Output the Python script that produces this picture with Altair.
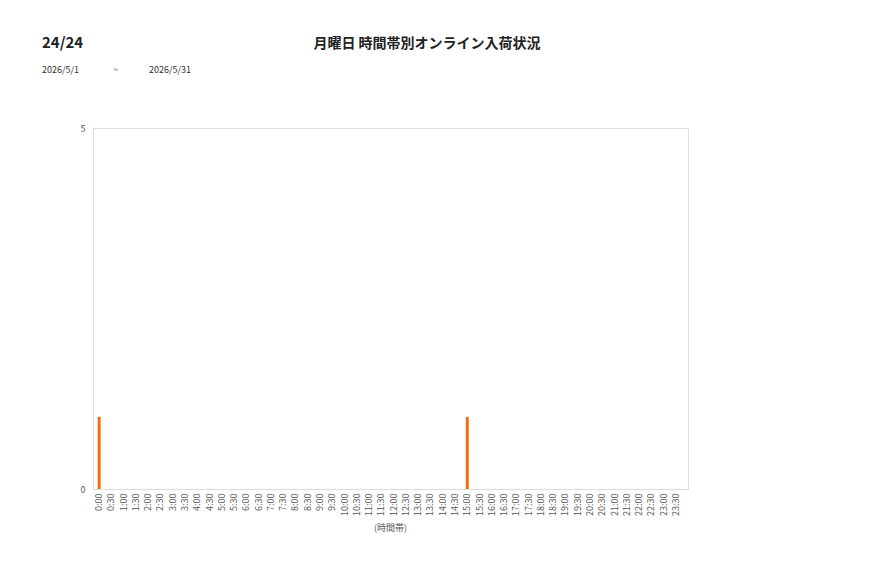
import altair as alt
import pandas as pd

slots = [f"{h}:{m:02d}" for h in range(24) for m in (0, 30)]
values = [0] * 48
values[0] = 1   # 0:00
values[30] = 1  # 15:00

df = pd.DataFrame({"slot": slots, "count": values})

FONT = "Noto Sans CJK JP"

base = alt.Chart(df)

bars = base.mark_bar(color="#F26C12", size=3).encode(
    x=alt.X("slot:N", sort=slots,
            scale=alt.Scale(domain=slots, paddingInner=0, paddingOuter=0, range=[0, 589]),
            axis=alt.Axis(title="(時間帯)", labelAngle=270, labelFontSize=9, labelColor="#555555",
                          titleFontSize=9, titleColor="#555555", titleFontWeight="normal",
                          titlePadding=8, ticks=False, domain=False, labelPadding=4,
                          labelFont=FONT, titleFont=FONT, titleX=297)),
    y=alt.Y("count:Q", scale=alt.Scale(domain=[0, 5]),
            axis=alt.Axis(title=None, values=[0, 5], grid=False, ticks=False, domain=False,
                          labelFontSize=9, labelColor="#555555", labelPadding=8, labelFont=FONT)),
)

texts_df = pd.DataFrame({"t": ["24/24"]})
t1 = alt.Chart(texts_df).mark_text(align="left", baseline="alphabetic", fontSize=15, font=FONT,
                                   fontWeight="bold", color="#222222").encode(
    x=alt.value(-51), y=alt.value(-80), text="t:N")
t2 = alt.Chart(pd.DataFrame({"t": ["月曜日 時間帯別オンライン入荷状況"]})).mark_text(
    align="center", baseline="alphabetic", fontSize=14, font=FONT, fontWeight="bold", color="#222222").encode(
    x=alt.value(334), y=alt.value(-80), text="t:N")
t3 = alt.Chart(pd.DataFrame({"t": ["2026/5/1"]})).mark_text(
    align="left", baseline="middle", fontSize=9, font=FONT, color="#333333").encode(
    x=alt.value(-51), y=alt.value(-58), text="t:N")
t4 = alt.Chart(pd.DataFrame({"t": ["~"]})).mark_text(
    align="left", baseline="middle", fontSize=9, font=FONT, color="#333333").encode(
    x=alt.value(20), y=alt.value(-58), text="t:N")
t5 = alt.Chart(pd.DataFrame({"t": ["2026/5/31"]})).mark_text(
    align="left", baseline="middle", fontSize=9, font=FONT, color="#333333").encode(
    x=alt.value(56), y=alt.value(-58), text="t:N")

chart = alt.layer(bars, t1, t2, t3, t4, t5).properties(
    width=595, height=361,
    autosize=alt.AutoSizeParams(type="none"),
    padding={"left": 85, "top": 120, "right": 180, "bottom": 80},
).configure_view(stroke="#d9d9d9", strokeWidth=1).configure(background="white")

chart.save("out.html", embed_options={"renderer": "svg", "actions": False})
